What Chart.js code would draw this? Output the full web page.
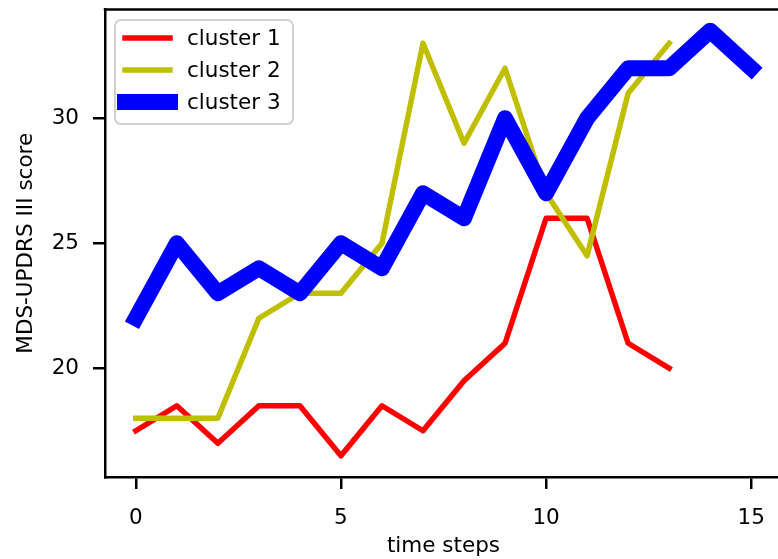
<!DOCTYPE html>
<html>
<head>
<meta charset="utf-8">
<script src="https://cdn.jsdelivr.net/npm/chart.js@4/dist/chart.umd.min.js"></script>
<style>
  html, body { margin: 0; padding: 0; background: #fff; overflow: hidden; width: 778px; height: 559px; }
  #wrap { width: 800px; height: 559px; position: relative; }
</style>
</head>
<body>
<div id="wrap"><canvas id="c" width="800" height="559"></canvas></div>
<script>
// ---- data ----
const timeSteps = [0, 1, 2, 3, 4, 5, 6, 7, 8, 9, 10, 11, 12, 13, 14, 15];
const seriesNames = ['cluster 1', 'cluster 2', 'cluster 3'];
const cluster1 = [17.5, 18.5, 17, 18.5, 18.5, 16.5, 18.5, 17.5, 19.5, 21, 26, 26, 21, 20];
const cluster2 = [18, 18, 18, 22, 23, 23, 25, 33, 29, 32, 27, 24.5, 31, 33];
const cluster3 = [22, 25, 23, 24, 23, 25, 24, 27, 26, 30, 27, 30, 32, 32, 33.5, 32];
const xTickValues = [0, 5, 10, 15];
const yTickValues = [20, 25, 30];
const xTitle = 'time steps';
const yTitle = 'MDS-UPDRS III score';

const FONT = 'DejaVu Sans';
const toPoints = vals => vals.map((v, i) => ({ x: timeSteps[i], y: v }));

const spinesPlugin = {
  id: 'spines',
  afterDraw(chart) {
    const { ctx, chartArea: a } = chart;
    ctx.save();
    ctx.strokeStyle = '#000';
    ctx.lineWidth = 2.5;
    ctx.beginPath();
    ctx.moveTo(a.left - 1.25, a.top);
    ctx.lineTo(a.right, a.top);
    ctx.lineTo(a.right, a.bottom);
    ctx.stroke();
    ctx.restore();
  }
};

const legendPlugin = {
  id: 'mplLegend',
  afterDatasetsDraw(chart) {
    const ctx = chart.ctx;
    const x0 = 115, y0 = 20, w = 178, h = 104, r = 6;
    ctx.save();
    ctx.fillStyle = 'rgba(255,255,255,0.8)';
    ctx.strokeStyle = '#d0d0d0';
    ctx.lineWidth = 2;
    ctx.beginPath();
    ctx.roundRect(x0, y0, w, h, r);
    ctx.fill();
    ctx.stroke();
    const rowY = [38, 70, 102];
    chart.data.datasets.forEach((ds, i) => {
      ctx.strokeStyle = ds.borderColor;
      ctx.lineWidth = ds.borderWidth;
      ctx.lineCap = 'square';
      ctx.beginPath();
      ctx.moveTo(125, rowY[i]);
      ctx.lineTo(170, rowY[i]);
      ctx.stroke();
      ctx.fillStyle = '#000';
      ctx.font = '21.5px "' + FONT + '"';
      ctx.textAlign = 'left';
      ctx.textBaseline = 'middle';
      ctx.fillText(ds.label, 187, rowY[i] + 1);
    });
    ctx.restore();
  }
};

const zeroPad = axis => { axis.paddingTop = 0; axis.paddingBottom = 0; axis.paddingLeft = 0; axis.paddingRight = 0; };

new Chart(document.getElementById('c'), {
  type: 'line',
  data: {
    datasets: [
      { label: seriesNames[0], data: toPoints(cluster1), borderColor: '#ff0000', borderWidth: 5.5, order: 3 },
      { label: seriesNames[1], data: toPoints(cluster2), borderColor: '#bfbf00', borderWidth: 5.5, order: 2 },
      { label: seriesNames[2], data: toPoints(cluster3), borderColor: '#0000ff', borderWidth: 16, order: 1 }
    ]
  },
  options: {
    responsive: false,
    animation: false,
    devicePixelRatio: 1,
    layout: { padding: { top: 9.5, right: 18, left: 0, bottom: 0 } },
    elements: {
      point: { radius: 0, hoverRadius: 0 },
      line: { tension: 0, fill: false, borderJoinStyle: 'round', borderCapStyle: 'square' }
    },
    plugins: { legend: { display: false }, tooltip: { enabled: false } },
    scales: {
      x: {
        type: 'linear',
        min: -0.75,
        max: 15.75,
        afterBuildTicks: axis => { axis.ticks = xTickValues.map(v => ({ value: v })); },
        afterFit: axis => { axis.height = 82; zeroPad(axis); },
        grid: { drawOnChartArea: false, drawTicks: true, tickLength: 12, color: '#000', lineWidth: 2.5 },
        border: { display: true, color: '#000', width: 2.5 },
        ticks: { color: '#000', padding: 17, maxRotation: 0, font: { family: FONT, size: 21.5 } },
        title: { display: true, text: xTitle, color: '#000', padding: { top: 0, bottom: 0 }, font: { family: FONT, size: 21.5, lineHeight: 1.2 } }
      },
      y: {
        type: 'linear',
        min: 15.65,
        max: 34.35,
        afterBuildTicks: axis => { axis.ticks = yTickValues.map(v => ({ value: v })); },
        afterFit: axis => { axis.width = 105; zeroPad(axis); },
        grid: { drawOnChartArea: false, drawTicks: true, tickLength: 12, color: '#000', lineWidth: 2.5 },
        border: { display: true, color: '#000', width: 2.5 },
        ticks: { color: '#000', padding: 14, font: { family: FONT, size: 21.5 } },
        title: { display: true, text: yTitle, color: '#000', padding: { top: 13.5, bottom: 0 }, font: { family: FONT, size: 21.5, lineHeight: 1.2 } }
      }
    }
  },
  plugins: [spinesPlugin, legendPlugin]
});
</script>
</body>
</html>
